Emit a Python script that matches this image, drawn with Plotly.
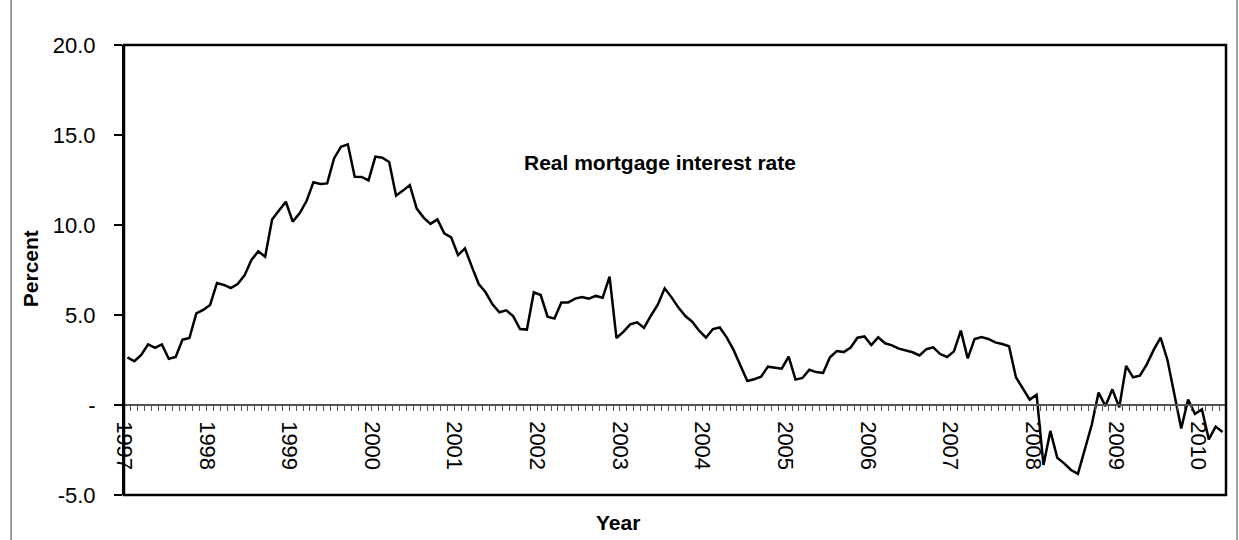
import numpy as np
import plotly.graph_objects as go

start_year = 1997
rate = [
    2.65, 2.43, 2.78, 3.37, 3.17, 3.37, 2.57, 2.67, 3.63, 3.72, 5.09, 5.28,
    5.56, 6.78, 6.67, 6.50, 6.72, 7.20, 8.06, 8.54, 8.24, 10.31, 10.81, 11.29,
    10.19, 10.65, 11.33, 12.37, 12.28, 12.31, 13.70, 14.35, 14.48, 12.68, 12.67, 12.48,
    13.80, 13.74, 13.50, 11.63, 11.91, 12.22, 10.91, 10.41, 10.06, 10.31, 9.54, 9.31,
    8.33, 8.70, 7.69, 6.72, 6.26, 5.59, 5.15, 5.26, 4.94, 4.22, 4.19, 6.26,
    6.11, 4.91, 4.80, 5.70, 5.70, 5.91, 6.00, 5.91, 6.06, 5.96, 7.13, 3.72,
    4.06, 4.48, 4.59, 4.28, 4.96, 5.57, 6.48, 5.98, 5.41, 4.94, 4.63, 4.13,
    3.74, 4.22, 4.31, 3.76, 3.06, 2.22, 1.33, 1.43, 1.57, 2.13, 2.07, 2.02,
    2.69, 1.41, 1.50, 1.96, 1.83, 1.78, 2.65, 3.00, 2.94, 3.19, 3.74, 3.81,
    3.33, 3.76, 3.43, 3.31, 3.13, 3.02, 2.93, 2.75, 3.10, 3.20, 2.83, 2.67,
    2.98, 4.13, 2.59, 3.67, 3.78, 3.67, 3.48, 3.39, 3.26, 1.54, 0.93, 0.30,
    0.57, -3.33, -1.44, -2.93, -3.24, -3.61, -3.83, -2.50, -1.11, 0.69, -0.06, 0.87,
    -0.13, 2.17, 1.54, 1.63, 2.26, 3.06, 3.74, 2.50, 0.61, -1.30, 0.31, -0.50,
    -0.24, -1.91, -1.20, -1.50,
]
year_labels = [str(y) for y in range(1997, 2011)]
y_tickvals = [20, 15, 10, 5, 0, -5]
y_ticktext = ["20.0", "15.0", "10.0", "5.0", "-", "-5.0"]

n = len(rate)
x = start_year + (np.arange(n) + 0.5) / 12.0
x_min, x_max = start_year, start_year + n / 12.0
y_min, y_max = -5, 20

FONT = "Liberation Sans, Arial, sans-serif"

fig = go.Figure()
fig.add_trace(go.Scatter(x=x, y=rate, mode="lines",
                         line=dict(color="black", width=2.5), showlegend=False))

zero_pos = (0 - y_min) / (y_max - y_min)

fig.update_layout(
    width=1239, height=540,
    margin=dict(l=124, r=13, t=45, b=45),
    paper_bgcolor="white", plot_bgcolor="white",
    font=dict(family=FONT, color="black", size=22),
    xaxis=dict(
        range=[x_min, x_max], anchor="free", position=zero_pos,
        showgrid=False, zeroline=False,
        showline=True, linecolor="#555", linewidth=1.5,
        tickmode="array", tickvals=[int(v) for v in year_labels], ticktext=year_labels,
        ticks="outside", ticklen=5, tickcolor="#555", tickwidth=1,
        tickangle=90, tickfont=dict(size=22, family=FONT), ticklabelstandoff=6,
        minor=dict(dtick=1 / 12, tick0=start_year, ticks="outside", ticklen=5,
                   tickcolor="#555", tickwidth=1, showgrid=False),
    ),
    yaxis=dict(
        range=[y_min, y_max], showgrid=False, zeroline=False,
        showline=True, linecolor="black", linewidth=2,
        tickmode="array", tickvals=y_tickvals, ticktext=y_ticktext,
        ticks="outside", ticklen=8, tickcolor="black", tickwidth=1.5,
        tickfont=dict(size=22, family=FONT), ticklabelstandoff=14,
    ),
    shapes=[
        dict(type="rect", xref="paper", yref="paper", x0=0, x1=1, y0=0, y1=1,
             line=dict(color="black", width=2.5), layer="above"),
        dict(type="line", xref="paper", yref="paper", x0=-0.1025, x1=-0.1025,
             y0=-0.1, y1=1.1, line=dict(color="#444", width=1)),
        dict(type="line", xref="paper", yref="paper", x0=1.0100, x1=1.0100,
             y0=-0.1, y1=1.1, line=dict(color="#444", width=1)),
    ],
    annotations=[
        dict(text="<b>Real mortgage interest rate</b>", x=0.486, y=0.738,
             xref="paper", yref="paper", showarrow=False, font=dict(size=21, family=FONT),
             xanchor="center", yanchor="middle"),
        dict(text="<b>Percent</b>", x=-0.0853, y=0.504, xref="paper", yref="paper",
             showarrow=False, textangle=-90, font=dict(size=21, family=FONT),
             xanchor="center", yanchor="middle"),
        dict(text="<b>Year</b>", x=0.448, y=-0.06, xref="paper", yref="paper",
             showarrow=False, font=dict(size=21, family=FONT),
             xanchor="center", yanchor="middle"),
    ],
)

fig.write_html("out.html", config={"displayModeBar": False},
               post_script="document.body.style.margin='0';")
